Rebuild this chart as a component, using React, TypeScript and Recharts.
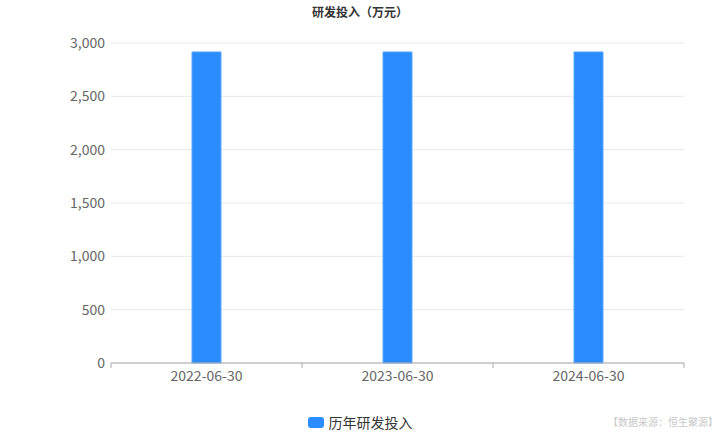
import React from "react"
import { Bar, BarChart, CartesianGrid, XAxis, YAxis, Legend } from "recharts"

const periods = ["2022-06-30", "2023-06-30", "2024-06-30"]
const rdInvestment = [2916, 2916, 2916]
const yTicks = [0, 500, 1000, 1500, 2000, 2500, 3000]

const data = periods.map((p, i) => ({ period: p, value: rdInvestment[i] }))

const font = "'Microsoft YaHei', 'Noto Sans CJK SC', 'Noto Sans', sans-serif"

// x-axis tick with boundary tick marks (between categories)
function XTick(props: any) {
  const { x, y, payload, index, visibleTicksCount, width } = props
  const band = width / visibleTicksCount
  const left = x - band / 2
  const right = x + band / 2
  return (
    <g>
      <line x1={left} y1={y - 6} x2={left} y2={y - 1} stroke="#aaa" />
      {index === visibleTicksCount - 1 && <line x1={right} y1={y - 6} x2={right} y2={y - 1} stroke="#aaa" />}
      <text x={x} y={y + 12} textAnchor="middle" fill="#666" fontSize={14} fontFamily={font}>
        {payload.value}
      </text>
    </g>
  )
}

function LegendContent() {
  return (
    <div style={{ display: "flex", justifyContent: "center", alignItems: "center", fontFamily: font }}>
      <span style={{ width: 16, height: 11, background: "#2b8cff", borderRadius: 3, marginRight: 5 }} />
      <span style={{ fontSize: 14, color: "#333" }}>历年研发投入</span>
    </div>
  )
}

export default function App() {
  return (
    <div style={{ position: "absolute", left: 0, top: 0, width: 720, height: 432, background: "#fff", fontFamily: font }}>
      <div
        style={{
          position: "absolute",
          top: 3,
          width: 720,
          textAlign: "center",
          fontSize: 12,
          fontWeight: "bold",
          color: "#333",
        }}
      >
        研发投入（万元）
      </div>
      <BarChart width={720} height={432} data={data} margin={{ top: 43, right: 36, left: 0, bottom: 0 }}>
        <CartesianGrid vertical={false} stroke="#e6e8f0" />
        <XAxis
          dataKey="period"
          axisLine={{ stroke: "#aaa" }}
          tickLine={false}
          tick={<XTick />}
          tickMargin={0}
          height={49}
          interval={0}
        />
        <YAxis
          domain={[0, 3000]}
          ticks={yTicks}
          width={111}
          axisLine={false}
          tickLine={false}
          tickMargin={0}
          tick={{ fill: "#666", fontSize: 14, fontFamily: font }}
          tickFormatter={(v: number) => v.toLocaleString("en-US")}
        />
        <Legend
          verticalAlign="bottom"
          height={20}
          content={<LegendContent />}
          wrapperStyle={{ left: 0, width: 720 }}
        />
        <Bar dataKey="value" name="历年研发投入" fill="#2b8cff" stroke="#5aa6ff" strokeWidth={1} barSize={29} isAnimationActive={false} />
      </BarChart>
      <div style={{ position: "absolute", right: 2, top: 414, fontSize: 10, color: "#c8c8c8" }}>【数据来源：恒生聚源】</div>
    </div>
  )
}
